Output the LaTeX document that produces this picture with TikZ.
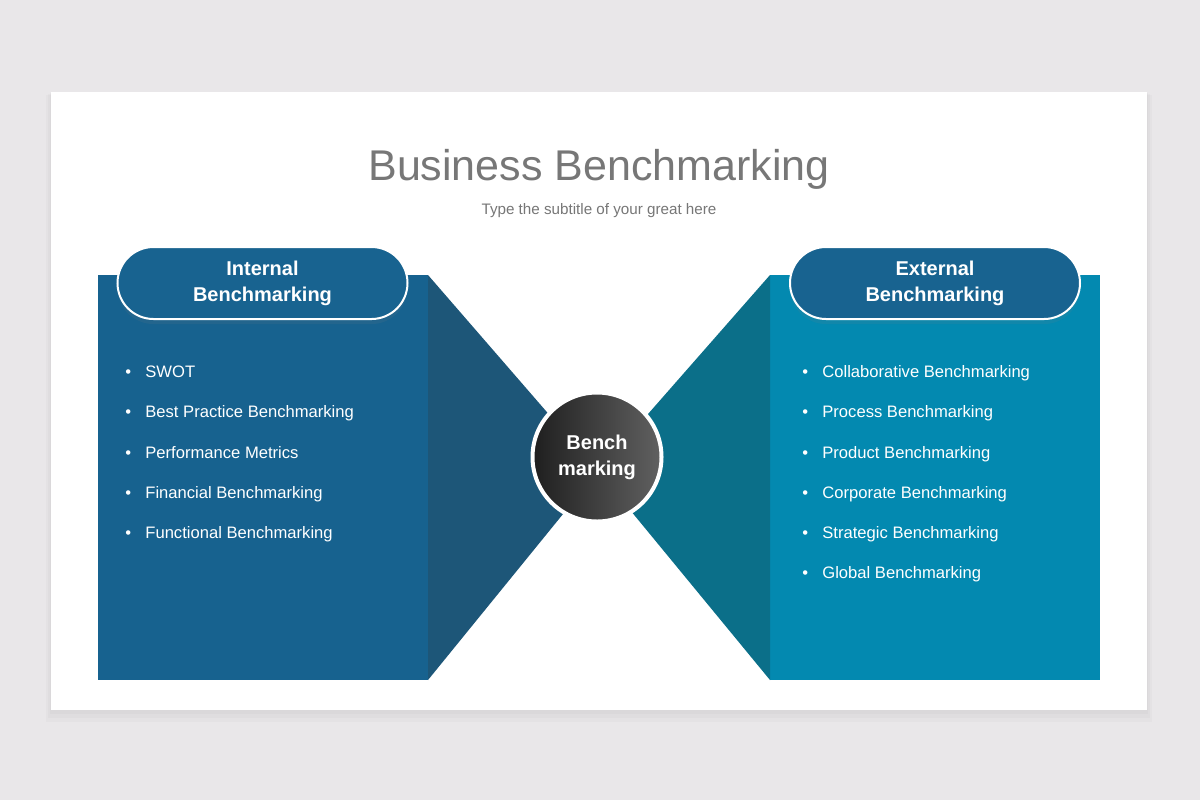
\documentclass[tikz,border=0pt]{standalone}
\usepackage{fontspec}
\setmainfont{Liberation Sans}
\usetikzlibrary{positioning, shadows}

\definecolor{pagegray}{HTML}{E9E7E9}
\definecolor{intblue}{HTML}{17628F}
\definecolor{intdark}{HTML}{1D5678}
\definecolor{extblue}{HTML}{0389B0}
\definecolor{extdark}{HTML}{0B6F89}
\definecolor{pillblue}{HTML}{186390}
\definecolor{titlegray}{HTML}{777777}

\begin{document}
\begin{tikzpicture}[x=0.5pt, y=-0.5pt,
	pill/.style={draw=white, line width=1pt, fill=pillblue, rounded corners=18pt, minimum width=145pt, minimum height=36pt, align=center, text=white, font=\bfseries\fontsize{10}{13}\selectfont, drop shadow={opacity=0.12, shadow xshift=0pt, shadow yshift=-2.5pt}},
	item/.style={anchor=base west, inner sep=0pt, text=white, font=\fontsize{8.3}{10}\selectfont}]
	
	% Page and slide
	\fill[pagegray] (0,0) rectangle (1200,800);
	\fill[black, opacity=0.02] (46,95) rectangle (1152,722);
	\fill[black, opacity=0.02] (48,94) rectangle (1150,718);
	\fill[black, opacity=0.02] (50,93) rectangle (1148,714);
	\fill[white] (51,92) rectangle (1147,710);
	
	% Title
	\node [text=titlegray, font=\fontsize{21.5}{26}\selectfont, anchor=base] (title) at (599,180) {Business Benchmarking};
	\node [text=titlegray, font=\fontsize{7.6}{9}\selectfont, anchor=base] (subtitle) at (599,214) {Type the subtitle of your great here};
	
	% Panels
	\fill[intblue] (98,275) rectangle (428,680);
	\fill[extblue] (770,275) rectangle (1100,680);
	\fill[intdark] (428,275) -- (598,471) -- (428,680) -- cycle;
	\fill[extdark] (770,275) -- (598,471) -- (770,680) -- cycle;
	
	% Headers
	\node [pill] (intHead) at (262.5,283) {Internal\\Benchmarking};
	\node [pill] (extHead) at (935,283) {External\\Benchmarking};
	
	% Centre
	\node [circle, draw=white, line width=2pt, left color=black!88, right color=black!62, minimum size=64.5pt, align=center, text=white, font=\bfseries\fontsize{10}{13}\selectfont] (bench) at (597,457) {Bench\\marking};
	
	% Lists
	\foreach \txt [count=\i from 0] in {SWOT, Best Practice Benchmarking, Performance Metrics, Financial Benchmarking, Functional Benchmarking}
		\node [item] (int-\i) at (125,377.5+40.25*\i) {\makebox[10pt][l]{\textbullet}\txt};
	\foreach \txt [count=\i from 0] in {Collaborative Benchmarking, Process Benchmarking, Product Benchmarking, Corporate Benchmarking, Strategic Benchmarking, Global Benchmarking}
		\node [item] (ext-\i) at (802,377.5+40.25*\i) {\makebox[10pt][l]{\textbullet}\txt};
	
\end{tikzpicture}
\end{document}
